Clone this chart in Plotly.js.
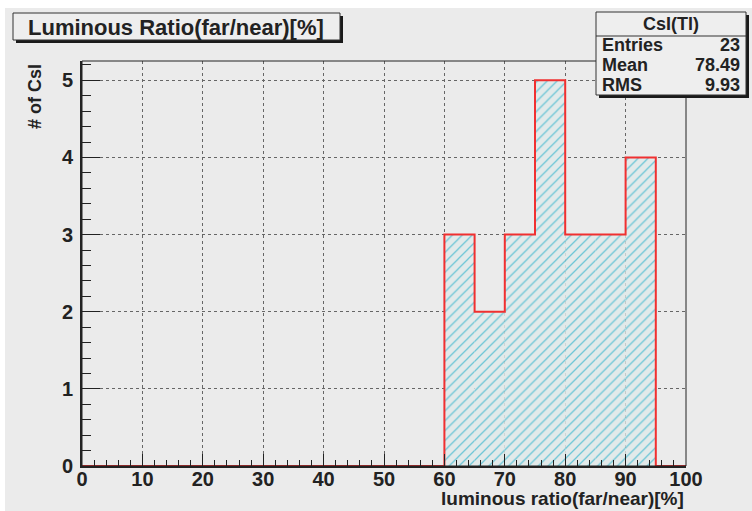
<!DOCTYPE html>
<html><head><meta charset="utf-8">
<script src="https://cdn.plot.ly/plotly-3.0.1.min.js"></script>
<style>html,body{margin:0;padding:0;background:#ebebeb;}#chart{width:752px;height:511px;}</style>
</head><body><div id="chart"></div>
<script>
const binEdges = [0,5,10,15,20,25,30,35,40,45,50,55,60,65,70,75,80,85,90,95,100];
const counts = [0,0,0,0,0,0,0,0,0,0,0,0,3,2,3,5,3,3,4,0];
const xTickVals = [0,10,20,30,40,50,60,70,80,90,100];
const yTickVals = [0,1,2,3,4,5];
const histTitle = "Luminous Ratio(far/near)[%]";
const xTitle = "luminous ratio(far/near)[%]";
const yTitle = "# of CsI";
const statsName = "CsI(Tl)";
const statsLabels = ["Entries","Mean","RMS"];
const statsValues = ["23","78.49","9.93"];

const W=752,H=511,L=82,R=66,T=61,B=45;
const pw=W-L-R, ph=H-T-B;
const px=x=>(x-L)/pw, py=y=>(H-B-y)/ph;

const centers=[], bw=[];
for(let i=0;i<counts.length;i++){centers.push((binEdges[i]+binEdges[i+1])/2); bw.push(binEdges[i+1]-binEdges[i]);}
const stepY = counts.concat([counts[counts.length-1]]);

const font="Liberation Sans, Arial, Helvetica, sans-serif";
const traces=[
 {type:'bar',x:centers,y:counts,width:bw,hoverinfo:'skip',
  marker:{color:'rgba(0,0,0,0)',line:{width:0},
   pattern:{shape:'/',fgcolor:'#6cc6d6',bgcolor:'#e2eaea',size:7,solidity:0.18,fillmode:'replace'}}},
 {type:'scatter',mode:'lines',x:binEdges,y:stepY,line:{shape:'hv',color:'#f03030',width:2},hoverinfo:'skip'}
];

const shapes=[
 {type:'rect',xref:'paper',yref:'paper',x0:px(0),x1:px(W),y0:py(0),y1:py(8),fillcolor:'#ffffff',line:{width:0},layer:'below'},
 {type:'rect',xref:'paper',yref:'paper',x0:px(0),x1:px(5),y0:py(0),y1:py(H),fillcolor:'#ffffff',line:{width:0},layer:'below'},
 {type:'rect',xref:'paper',yref:'paper',x0:0,x1:1,y0:0,y1:1,line:{color:'#222',width:1},fillcolor:'rgba(0,0,0,0)'},
 {type:'rect',xref:'paper',yref:'paper',x0:px(16),x1:px(343),y0:py(16),y1:py(43),fillcolor:'#1a1a1a',line:{width:0}},
 {type:'rect',xref:'paper',yref:'paper',x0:px(13),x1:px(340),y0:py(13),y1:py(40),fillcolor:'#eeeeee',line:{color:'#333',width:1}},
 {type:'rect',xref:'paper',yref:'paper',x0:px(599),x1:px(749),y0:py(15),y1:py(98),fillcolor:'#1a1a1a',line:{width:0}},
 {type:'rect',xref:'paper',yref:'paper',x0:px(596),x1:px(746),y0:py(12),y1:py(95),fillcolor:'#eeeeee',line:{color:'#333',width:1}},
 {type:'line',xref:'paper',yref:'paper',x0:px(596),x1:px(746),y0:py(36),y1:py(36),line:{color:'#333',width:1}}
];

const ann=[
 {xref:'paper',yref:'paper',x:px(176),y:py(27),text:'<b>'+histTitle+'</b>',showarrow:false,font:{family:font,size:22,color:'#222'},xanchor:'center',yanchor:'middle'},
 {xref:'paper',yref:'paper',x:px(671),y:py(24),text:'<b>'+statsName+'</b>',showarrow:false,font:{family:font,size:18,color:'#222'},xanchor:'center',yanchor:'middle'},
 {xref:'paper',yref:'paper',x:1,y:py(498),text:'<b>'+xTitle+'</b>',showarrow:false,font:{family:font,size:19,color:'#222'},xanchor:'right',yanchor:'middle'},
 {xref:'paper',yref:'paper',x:px(35),y:py(97),text:'<b>'+yTitle+'</b>',textangle:-90,showarrow:false,font:{family:font,size:18,color:'#222'},xanchor:'center',yanchor:'middle'}
];
const rowY=[45,65,85];
for(let i=0;i<statsLabels.length;i++){
 ann.push({xref:'paper',yref:'paper',x:px(600),y:py(rowY[i]),text:'<b>'+statsLabels[i]+'</b>',showarrow:false,font:{family:font,size:18,color:'#222'},xanchor:'left',yanchor:'middle'});
 ann.push({xref:'paper',yref:'paper',x:px(742),y:py(rowY[i]),text:'<b>'+statsValues[i]+'</b>',showarrow:false,font:{family:font,size:18,color:'#222'},xanchor:'right',yanchor:'middle'});
}

const layout={
 width:W,height:H,margin:{l:L,r:R,t:T,b:B,pad:0},
 paper_bgcolor:'#ebebeb',plot_bgcolor:'#ebebeb',showlegend:false,barmode:'overlay',
 font:{family:font,color:'#222'},
 xaxis:{range:[0,100],tickvals:xTickVals,ticktext:xTickVals.map(String),ticks:'inside',ticklen:12,tickwidth:1,tickcolor:'#222',
  minor:{dtick:2,tick0:0,ticks:'inside',ticklen:6,tickwidth:1,tickcolor:'#222',showgrid:false},
  showgrid:true,gridcolor:'#666',griddash:'dot',gridwidth:1,zeroline:false,
  showline:true,linecolor:'#222',linewidth:2,mirror:false,tickfont:{family:font,size:20,color:'#222',weight:'bold'},ticklabelstandoff:-6},
 yaxis:{range:[0,5.25],tickvals:yTickVals,ticktext:yTickVals.map(String),ticks:'inside',ticklen:18,tickwidth:1,tickcolor:'#222',
  minor:{dtick:0.2,tick0:0,ticks:'inside',ticklen:9,tickwidth:1,tickcolor:'#222',showgrid:false},
  showgrid:true,gridcolor:'#666',griddash:'dot',gridwidth:1,zeroline:false,
  showline:true,linecolor:'#222',linewidth:2,mirror:false,tickfont:{family:font,size:20,color:'#222',weight:'bold'},ticklabelstandoff:3},
 shapes:shapes,annotations:ann
};
Plotly.newPlot('chart',traces,layout,{staticPlot:true,displayModeBar:false});
</script></body></html>
